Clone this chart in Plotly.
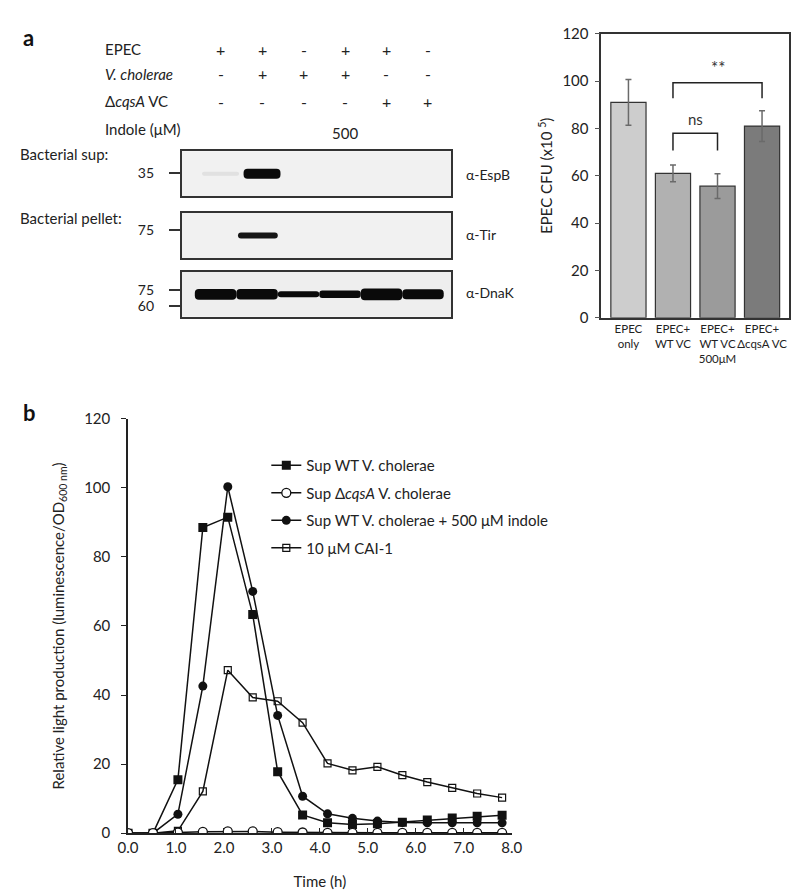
import plotly.graph_objects as go

# ---------------- data ----------------
# panel a: header table (lanes 1..6)
lanes = [1, 2, 3, 4, 5, 6]
row_labels = ["EPEC", "<i>V. cholerae</i>", "Δ<i>cqsA</i> VC", "Indole (μM)"]
epec = ["+", "+", "-", "+", "+", "-"]
vchol = ["-", "+", "+", "+", "-", "-"]
dcqsa_vc = ["-", "-", "-", "-", "+", "+"]
indole = ["", "", "", "500", "", ""]

# western blot band intensities (0..1) and thickness
espb_int = [0.07, 1.0, 0.0, 0.0, 0.0, 0.0]
espb_thick = [0.18, 0.45, 0.0, 0.0, 0.0, 0.0]
tir_int = [0.0, 0.95, 0.0, 0.0, 0.0, 0.0]
tir_thick = [0.0, 0.27, 0.0, 0.0, 0.0, 0.0]
dnak_int = [1.0, 1.0, 1.0, 1.0, 1.0, 1.0]
dnak_thick = [0.48, 0.46, 0.27, 0.33, 0.52, 0.44]

# bar chart (panel a, right)
bar_cats = ["EPEC<br>only", "EPEC+<br>WT VC", "EPEC+<br>WT VC<br>500μM", "EPEC+<br>ΔcqsA VC"]
bar_vals = [91.0, 61.0, 55.6, 81.0]
bar_err = [9.7, 3.5, 5.2, 6.5]
bar_colors = ["#cdcdcd", "#b1b1b1", "#9b9b9b", "#7b7b7b"]
sig_pairs = [(1, 3), (1, 2)]
sig_tops = [99.3, 78.0]
sig_legs = [92.7, 70.7]
sig_text = ["**", "ns"]

# panel b: luminescence time course
time_h = [0, 0.52, 1.04, 1.56, 2.08, 2.6, 3.12, 3.64, 4.16, 4.68, 5.2, 5.72, 6.24, 6.76, 7.28, 7.8]
sup_wt = [0, 0, 15.5, 88.5, 91.5, 63.3, 17.8, 5.3, 3.0, 2.5, 2.7, 3.2, 3.8, 4.4, 4.9, 5.2]
sup_dcqsa = [0, 0, 0.2, 0.4, 0.5, 0.5, 0.3, 0.2, 0.1, 0.1, 0.1, 0.1, 0.1, 0.1, 0.1, 0.1]
sup_wt_ind = [0, 0, 5.5, 42.6, 100.3, 70.0, 34.1, 10.7, 5.6, 4.3, 3.5, 3.1, 3.0, 3.0, 3.0, 3.0]
cai1 = [0, 0, 0.7, 12.1, 47.2, 39.3, 38.2, 32.0, 20.2, 18.2, 19.2, 16.8, 14.8, 13.1, 11.5, 10.3]

# ---------------- layout helpers ----------------
W, H = 800, 891
FONT = "Lato, 'Open Sans', sans-serif"
TXT = "#222222"


def px(x):
    return x / W


def py(y):
    return 1 - y / H


fig = go.Figure()

# ---------------- panel b line chart ----------------
fig.add_trace(go.Scatter(x=time_h, y=sup_wt, mode="lines+markers", name="Sup WT V. cholerae",
                         line=dict(color="#111", width=1.5), legendrank=1, legendgroup="g1",
                         marker=dict(symbol="square", size=9, color="#111")))
fig.add_trace(go.Scatter(x=time_h, y=sup_wt_ind, mode="lines+markers",
                         name="Sup WT V. cholerae + 500 μM indole", legendrank=3, legendgroup="g3",
                         line=dict(color="#111", width=1.5),
                         marker=dict(symbol="circle", size=9, color="#111")))
fig.add_trace(go.Scatter(x=time_h, y=cai1, mode="lines+markers", name="10 μM CAI-1", legendrank=4,
                         legendgroup="g4", line=dict(color="#111", width=1.5),
                         marker=dict(symbol="square-open", size=7, color="#111", line=dict(width=1.2))))
fig.add_trace(go.Scatter(x=time_h, y=sup_dcqsa, mode="lines+markers",
                         name="Sup Δ<i>cqsA</i> V. cholerae", legendrank=2, legendgroup="g2",
                         line=dict(color="#111", width=1.5),
                         marker=dict(symbol="circle", size=9, color="white", line=dict(color="#111", width=1.3))))

# ---------------- bar chart ----------------
xb = list(range(len(bar_vals)))
fig.add_trace(go.Bar(x=xb, y=bar_vals, width=0.79, xaxis="x2", yaxis="y2", showlegend=False,
                     marker=dict(color=bar_colors, line=dict(color="#333", width=1.2)),
                     error_y=dict(type="data", array=bar_err, color="#6a6a6a", thickness=1.5, width=3)))
for (a, b), top, leg, t in zip(sig_pairs, sig_tops, sig_legs, sig_text):
    fig.add_trace(go.Scatter(x=[a, a, b, b], y=[leg, top, top, leg], mode="lines", xaxis="x2", yaxis="y2",
                             line=dict(color="#222", width=1.5), showlegend=False, hoverinfo="skip"))
    fig.add_annotation(x=(a + b) / 2, y=top, xref="x2", yref="y2", text=t, showarrow=False,
                       yanchor="bottom", yshift=3, font=dict(size=17 if t == "**" else 15, color="#333",
                                                             family=FONT))

# ---------------- blots ----------------
blots = [("x3", "y3", espb_int, espb_thick, 0.89, 0.0),
         ("x4", "y4", tir_int, tir_thick, 0.96, -0.1),
         ("x5", "y5", dnak_int, dnak_thick, 1.0, -0.12)]
for xa, ya, inten, thick, bw, shift in blots:
    fig.add_trace(go.Bar(orientation="h", y=[0] * len(lanes), x=[bw] * len(lanes),
                         base=[l - bw / 2 + shift for l in lanes], width=thick,
                         xaxis=xa, yaxis=ya, showlegend=False, hoverinfo="skip",
                         marker=dict(color="#0a0a0a", opacity=inten, line=dict(width=0),
                                     cornerradius=4)))

# ---------------- axes ----------------
lane_range = [0.061, 6.563]
blot_x = dict(domain=[px(168), px(445)], range=lane_range, showgrid=False, zeroline=False,
              showticklabels=False, ticks="", showline=True, mirror=True, linecolor="#333", linewidth=1.5)
blot_common_y = dict(range=[-1, 1], showgrid=False, zeroline=False, showline=True, mirror=True,
                     linecolor="#333", linewidth=1.5, ticks="outside", ticklen=11, tickwidth=1.5,
                     tickcolor="#333", tickfont=dict(size=14, color=TXT, family=FONT),
                     ticklabelstandoff=12)

fig.update_layout(
    width=W, height=H, margin=dict(l=0, r=0, t=0, b=0),
    paper_bgcolor="white", plot_bgcolor="white",
    font=dict(family=FONT, color=TXT, size=14),
    barmode="overlay",
    xaxis=dict(domain=[px(113), px(507)], range=[0, 8.0], dtick=1, tickformat=".1f",
               showgrid=False, zeroline=False, showline=True, linecolor="#222", linewidth=1.5,
               ticks="inside", ticklen=5, tickcolor="#222", tickfont=dict(size=15),
               title=dict(text="Time (h)", font=dict(size=15), standoff=22)),
    yaxis=dict(domain=[py(832), py(409)], range=[0, 120], dtick=20, showgrid=False, zeroline=False,
               showline=True, linecolor="#222", linewidth=1.5, ticks="outside", ticklen=5,
               tickcolor="#222", tickfont=dict(size=15), ticklabelstandoff=8,
               title=dict(text="Relative light production (luminescence/OD<sub>600 nm</sub>)",
                          font=dict(size=15), standoff=16)),
    xaxis2=dict(domain=[px(599), px(792)], range=[-0.61, 3.61], tickvals=xb, ticktext=bar_cats,
                showgrid=False, zeroline=False, showline=True, mirror=True, linecolor="#333", linewidth=1.5,
                ticks="", tickangle=0, tickfont=dict(size=11.5), anchor="y2"),
    yaxis2=dict(domain=[py(306), py(16)], range=[0, 120], dtick=20, showgrid=False, zeroline=False,
                showline=True, mirror=True, linecolor="#333", linewidth=1.5, ticks="outside", ticklen=5,
                tickcolor="#555", tickfont=dict(size=15), anchor="x2", ticklabelstandoff=3,
                title=dict(text="EPEC CFU (x10 <sup>5</sup>)", font=dict(size=15), standoff=6)),
    xaxis3=dict(anchor="y3", **blot_x),
    xaxis4=dict(anchor="y4", **blot_x),
    xaxis5=dict(anchor="y5", **blot_x),
    yaxis3=dict(anchor="x3", domain=[py(182), py(136)], tickvals=[0.04], ticktext=["35"], **blot_common_y),
    yaxis4=dict(anchor="x4", domain=[py(245), py(199)], tickvals=[0.26], ticktext=["75"], **blot_common_y),
    yaxis5=dict(anchor="x5", domain=[py(305), py(259)], tickvals=[0.2, -0.52], ticktext=["75", "60"],
                **blot_common_y),
    legend=dict(x=px(255), y=py(440), xanchor="left", yanchor="top", bgcolor="rgba(0,0,0,0)",
                font=dict(size=15, color=TXT), tracegroupgap=5, traceorder="grouped"),
)

fig.update_layout(shapes=[dict(type="rect", xref="x3 domain", yref="y3 domain", x0=0, x1=1, y0=0, y1=1,
                               fillcolor="#f1f1f1", line=dict(width=0), layer="below"),
                          dict(type="rect", xref="x4 domain", yref="y4 domain", x0=0, x1=1, y0=0, y1=1,
                               fillcolor="#f1f1f1", line=dict(width=0), layer="below"),
                          dict(type="rect", xref="x5 domain", yref="y5 domain", x0=0, x1=1, y0=0, y1=1,
                               fillcolor="#eeeeee", line=dict(width=0), layer="below")])

# ---------------- annotations ----------------
ann = []
row_y = [32, 57, 85, 113]
for lab, yy in zip(row_labels, row_y):
    ann.append(dict(x=px(87), y=py(yy), xref="paper", yref="paper", text=lab, showarrow=False,
                    xanchor="left", yanchor="middle", font=dict(size=15)))
for row, yy in zip([epec, vchol, dcqsa_vc], row_y[:3]):
    for l, s in zip(lanes, row):
        ann.append(dict(x=l, y=py(yy), xref="x3", yref="paper", text=s, showarrow=False,
                        xanchor="center", yanchor="middle", font=dict(size=16)))
for l, s in zip(lanes, indole):
    if s:
        ann.append(dict(x=l, y=py(117), xref="x3", yref="paper", text=s, showarrow=False,
                        xanchor="center", yanchor="middle", font=dict(size=15)))
ann.append(dict(x=0, y=py(139), xref="paper", yref="paper", text="Bacterial sup:", showarrow=False,
                xanchor="left", yanchor="middle", font=dict(size=15)))
ann.append(dict(x=0, y=py(204), xref="paper", yref="paper", text="Bacterial pellet:", showarrow=False,
                xanchor="left", yanchor="middle", font=dict(size=15)))
for t, yy in zip(["α-EspB", "α-Tir", "α-DnaK"], [160, 221, 280]):
    ann.append(dict(x=px(458), y=py(yy), xref="paper", yref="paper", text=t, showarrow=False,
                    xanchor="left", yanchor="middle", font=dict(size=14)))
ann.append(dict(x=px(3), y=py(20), xref="paper", yref="paper", text="<b>a</b>", showarrow=False,
                xanchor="left", yanchor="middle", font=dict(size=22, color="#111")))
ann.append(dict(x=px(3), y=py(403), xref="paper", yref="paper", text="<b>b</b>", showarrow=False,
                xanchor="left", yanchor="middle", font=dict(size=22, color="#111")))
for a in ann:
    fig.add_annotation(**a)

fig.write_html("out.html")
